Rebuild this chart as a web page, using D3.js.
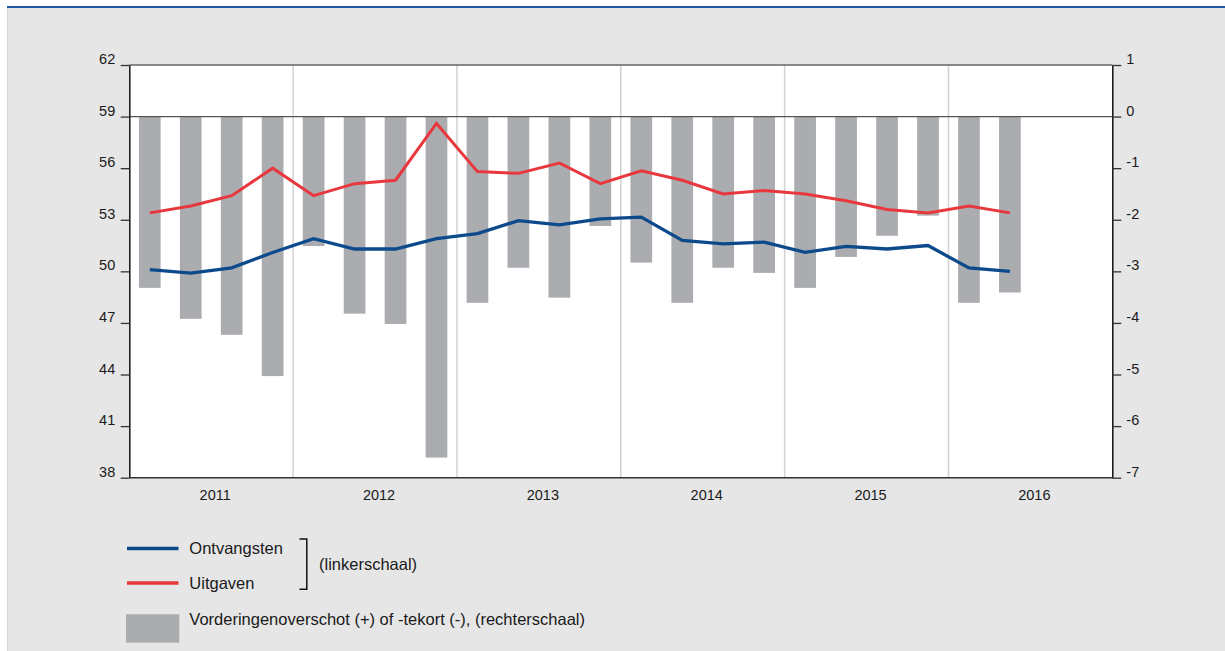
<!DOCTYPE html>
<html>
<head>
<meta charset="utf-8">
<script src="https://cdn.jsdelivr.net/npm/d3@7"></script>
<style>
body { margin: 0; background: #fff; }
svg text { font-family: "Liberation Sans", Arial, sans-serif; fill: #1a1a1a; }
</style>
</head>
<body>
<div id="chart"></div>
<script>
// quarters on the x axis (2016 Q3/Q4 have no data yet)
const quarters = ["2011Q1","2011Q2","2011Q3","2011Q4","2012Q1","2012Q2","2012Q3","2012Q4",
                  "2013Q1","2013Q2","2013Q3","2013Q4","2014Q1","2014Q2","2014Q3","2014Q4",
                  "2015Q1","2015Q2","2015Q3","2015Q4","2016Q1","2016Q2","2016Q3","2016Q4"];
const years = [2011, 2012, 2013, 2014, 2015, 2016];

// left scale (% bbp)
const ontvangsten = [50.1, 49.9, 50.2, 51.1, 51.9, 51.3, 51.3, 51.9, 52.2, 52.95, 52.7, 53.05,
                     53.15, 51.8, 51.6, 51.7, 51.1, 51.45, 51.3, 51.5, 50.2, 50.0];
const uitgaven    = [53.4, 53.8, 54.4, 56.0, 54.4, 55.1, 55.3, 58.6, 55.8, 55.7, 56.3, 55.1,
                     55.85, 55.3, 54.5, 54.7, 54.5, 54.1, 53.6, 53.4, 53.8, 53.4];
// right scale
const saldo       = [-3.32, -3.92, -4.23, -5.03, -2.51, -3.82, -4.02, -6.61, -3.61, -2.93, -3.51, -2.12,
                     -2.83, -3.61, -2.93, -3.03, -3.32, -2.72, -2.31, -1.92, -3.61, -3.41];

const leftTicks = [38, 41, 44, 47, 50, 53, 56, 59, 62];
const rightTicks = [-7, -6, -5, -4, -3, -2, -1, 0, 1];

const lineNames = ["Ontvangsten", "Uitgaven"];
const barName = "Vorderingenoverschot (+) of -tekort (-), (rechterschaal)";
const bracketLabel = "(linkerschaal)";

const colors = {
    blue: '#0c4a8c',
    red: '#e8383d',
    bar: '#abacb0',
    grid: '#d2d2d2'
}

// set the dimensions and margins of the graph
const W = 1225, H = 651;
const margin = {top: 65, left: 129.3},
      width = 983,
      height = 412.7;

const svg = d3.select("#chart")
    .append("svg")
        .attr("width", W)
        .attr("height", H);

// page frame
svg.append("rect").attr("x", 7).attr("y", 7).attr("width", W - 7).attr("height", H - 7).attr("fill", "#e6e6e6");
svg.append("line").attr("x1", 7.5).attr("x2", 7.5).attr("y1", 7).attr("y2", H).attr("stroke", "#d6d6d6");
svg.append("line").attr("x1", 7).attr("x2", W).attr("y1", 7).attr("y2", 7)
    .attr("stroke", "#1f5a9e").attr("stroke-width", 2);

const g = svg.append("g")
    .attr("transform", `translate(${margin.left},${margin.top})`);

g.append("rect").attr("width", width).attr("height", height).attr("fill", "#fff");

// scales
const x = d3.scaleBand()
    .domain(quarters)
    .range([0, width])
    .paddingInner(0.47)
    .paddingOuter(0.235);

const xYear = d3.scaleLinear()
    .domain([years[0], years[years.length - 1] + 1])
    .range([0, width]);

const yL = d3.scaleLinear()
    .domain([38, 62])
    .range([height, 0]);

const yR = d3.scaleLinear()
    .domain([-7, 1])
    .range([height, 0]);

// year separators
g.append("g")
    .selectAll("line")
    .data(years.slice(1))
    .join("line")
        .attr("x1", d => xYear(d)).attr("x2", d => xYear(d))
        .attr("y1", 0).attr("y2", height)
        .attr("stroke", colors.grid)
        .attr("stroke-width", 1.5);

// bars (right scale)
g.append("g")
    .selectAll("rect")
    .data(saldo)
    .join("rect")
        .attr("x", (d, i) => x(quarters[i]))
        .attr("width", x.bandwidth())
        .attr("y", d => yR(Math.max(0, d)))
        .attr("height", d => Math.abs(yR(d) - yR(0)))
        .attr("fill", colors.bar);

// zero line and top border
g.append("line")
    .attr("x1", 0).attr("x2", width)
    .attr("y1", yR(0)).attr("y2", yR(0))
    .attr("stroke", "#555").attr("stroke-width", 1.3);
g.append("line")
    .attr("x1", 0).attr("x2", width)
    .attr("y1", 0).attr("y2", 0)
    .attr("stroke", "#666").attr("stroke-width", 1.3);

// lines (left scale)
const line = d3.line()
    .x((d, i) => x(quarters[i]) + x.bandwidth() / 2)
    .y(d => yL(d));

g.append("path")
    .datum(uitgaven)
    .attr("fill", "none")
    .attr("stroke", colors.red)
    .attr("stroke-width", 3)
    .attr("stroke-linejoin", "miter")
    .attr("d", line);

g.append("path")
    .datum(ontvangsten)
    .attr("fill", "none")
    .attr("stroke", colors.blue)
    .attr("stroke-width", 3.3)
    .attr("d", line);

// axes (plain hyphen for negatives, like the original)
const fmt = d => String(d);
const leftAxis = g.append("g")
    .call(d3.axisLeft(yL).tickValues(leftTicks).tickFormat(fmt)
        .tickSize(8.6).tickPadding(5.5).tickSizeOuter(0));
const rightAxis = g.append("g")
    .attr("transform", `translate(${width},0)`)
    .call(d3.axisRight(yR).tickValues(rightTicks).tickFormat(fmt)
        .tickSize(9).tickPadding(5).tickSizeOuter(0));

[leftAxis, rightAxis].forEach(a => {
    a.select(".domain").attr("stroke", "#111").attr("stroke-width", 1.5);
    a.selectAll(".tick line").attr("stroke", "#333").attr("stroke-width", 1.3);
    a.selectAll(".tick text")
        .attr("y", -6)
        .style("font-size", "14.5px")
        .style("fill", "#1a1a1a");
});

// bottom axis line
g.append("line")
    .attr("x1", 0).attr("x2", width)
    .attr("y1", height).attr("y2", height)
    .attr("stroke", "#333").attr("stroke-width", 1.5);

// year labels
g.append("g")
    .selectAll("text")
    .data(years)
    .join("text")
        .attr("x", d => xYear(d + 0.5) + 4)
        .attr("y", height + 22.5)
        .attr("text-anchor", "middle")
        .style("font-size", "14.5px")
        .text(d => d);

// legend
const legend = svg.append("g");
const lineColors = [colors.blue, colors.red];
const legendY = [548.5, 583];

legend.selectAll(".lg-line")
    .data(lineNames)
    .join("line")
        .attr("x1", 127).attr("x2", 178.5)
        .attr("y1", (d, i) => legendY[i]).attr("y2", (d, i) => legendY[i])
        .attr("stroke", (d, i) => lineColors[i])
        .attr("stroke-width", 3.3);

legend.selectAll(".lg-text")
    .data(lineNames)
    .join("text")
        .attr("x", 189.3)
        .attr("y", (d, i) => legendY[i])
        .attr("dy", "0.35em")
        .style("font-size", "16.5px")
        .text(d => d);

legend.append("path")
    .attr("d", "M299.5,539 H306.8 V589.3 H299.5")
    .attr("fill", "none")
    .attr("stroke", "#111")
    .attr("stroke-width", 1.5);

legend.append("text")
    .attr("x", 319)
    .attr("y", 564.5)
    .attr("dy", "0.35em")
    .style("font-size", "16.5px")
    .text(bracketLabel);

legend.append("rect")
    .attr("x", 126).attr("y", 614.3)
    .attr("width", 53.3).attr("height", 28.4)
    .attr("fill", colors.bar);

legend.append("text")
    .attr("x", 189.3)
    .attr("y", 619)
    .attr("dy", "0.35em")
    .style("font-size", "16.5px")
    .text(barName);
</script>
</body>
</html>
